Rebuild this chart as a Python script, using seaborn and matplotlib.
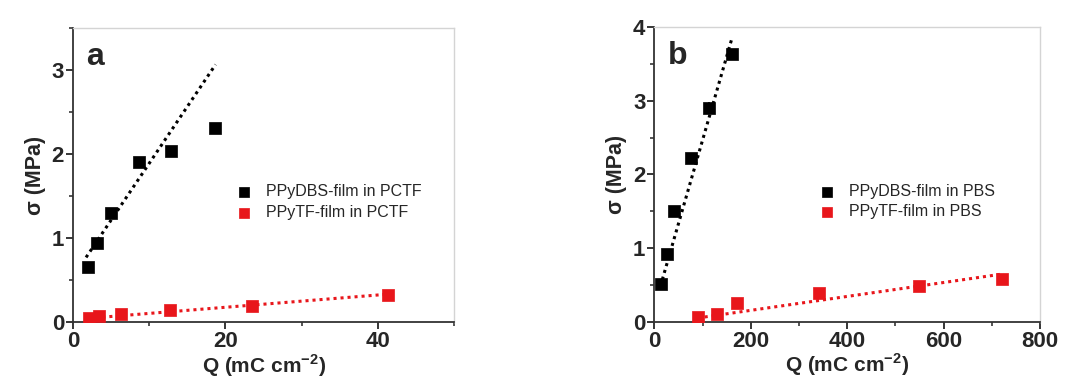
"""Stress vs charge density for PPyDBS and PPyTF films in PCTF and PBS."""

import matplotlib.pyplot as plt
import matplotlib.ticker as mticker
import numpy as np
import pandas as pd
import seaborn as sns

sns.set_theme(style="ticks")
plt.rcParams["font.family"] = ["Liberation Sans", "DejaVu Sans"]
plt.rcParams["mathtext.fontset"] = "custom"
plt.rcParams["mathtext.rm"] = "Liberation Sans"
plt.rcParams["mathtext.bf"] = "Liberation Sans:bold"

# Panel a: PCTF
q_dbs_pctf = [1.9, 3.2, 5.0, 8.6, 12.8, 18.6]
s_dbs_pctf = [0.66, 0.94, 1.30, 1.90, 2.04, 2.31]
e_dbs_pctf = [0.05, 0.05, 0.05, 0.05, 0.06, 0.05]
q_tf_pctf = [2.1, 3.4, 6.3, 12.7, 23.5, 41.3]
s_tf_pctf = [0.05, 0.07, 0.10, 0.14, 0.19, 0.32]
e_tf_pctf = [0.03, 0.03, 0.04, 0.04, 0.04, 0.04]

# Panel b: PBS
q_dbs_pbs = [13, 26, 41, 76, 113, 162]
s_dbs_pbs = [0.51, 0.92, 1.51, 2.23, 2.90, 3.63]
e_dbs_pbs = [0.06, 0.06, 0.06, 0.06, 0.08, 0.05]
q_tf_pbs = [91, 130, 172, 341, 550, 721]
s_tf_pbs = [0.07, 0.11, 0.25, 0.39, 0.49, 0.58]
e_tf_pbs = [0.04, 0.05, 0.05, 0.05, 0.05, 0.05]

# linear fits drawn in the source figure: (x start, x end, slope, intercept)
fit_dbs_pctf = (1.7, 18.7, 0.135, 0.54)
fit_tf_pctf = (2.0, 41.5, 0.0073, 0.03)
fit_dbs_pbs = (12.5, 161, 0.0227, 0.196)
fit_tf_pbs = (90, 725, 0.000945, -0.035)

BLACK = "#000000"
RED = "#e8161b"


def fit_frame(fit):
    x0, x1, k, b = fit
    xs = np.array([x0, x1])
    return pd.DataFrame({"x": xs, "y": k * xs + b})


def draw_panel(ax, series, fits, labels, xlim, ylim, xmajor, ymajor, tag):
    for (q, s, e), fit, color, label in zip(series, fits, [BLACK, RED], labels):
        ff = fit_frame(fit)
        sns.lineplot(data=ff, x="x", y="y", ax=ax, color=color, lw=2.2,
                     linestyle=(0, (1, 1.3)), legend=False)
        ax.errorbar(q, s, yerr=e, fmt="none", ecolor=color, elinewidth=1.2,
                    capsize=0, zorder=3)
        df = pd.DataFrame({"q": q, "s": s, "series": label})
        sns.scatterplot(data=df, x="q", y="s", ax=ax, marker="s", s=80,
                        color=color, edgecolor=color, linewidth=0.5,
                        label=label, zorder=4)

    ax.set_xlim(*xlim)
    ax.set_ylim(*ylim)
    ax.xaxis.set_major_locator(mticker.MultipleLocator(xmajor))
    ax.xaxis.set_minor_locator(mticker.MultipleLocator(xmajor / 2))
    ax.yaxis.set_major_locator(mticker.MultipleLocator(ymajor))
    ax.yaxis.set_minor_locator(mticker.MultipleLocator(ymajor / 2))
    ax.tick_params(which="major", direction="out", length=5, width=1.3,
                   labelsize=16, pad=1.5, top=False, right=False)
    ax.tick_params(which="minor", direction="out", length=3, width=1.1,
                   top=False, right=False)
    for lab in ax.get_xticklabels() + ax.get_yticklabels():
        lab.set_fontweight("bold")

    for side in ["left", "bottom"]:
        ax.spines[side].set_color("#333333")
        ax.spines[side].set_linewidth(1.3)
    for side in ["top", "right"]:
        ax.spines[side].set_color("#d4d4d4")
        ax.spines[side].set_linewidth(1.0)

    ax.set_xlabel("Q (mC cm$^{\\mathbf{-2}}$)", fontsize=15, fontweight="bold",
                  labelpad=0)
    ax.set_ylabel("σ (MPa)", fontsize=15.5, fontweight="bold", labelpad=4)
    ax.text(0.035, 0.875, tag, transform=ax.transAxes, fontsize=23,
            fontweight="bold", va="baseline")

    leg = ax.legend(loc="upper left", bbox_to_anchor=(0.41, 0.49), frameon=False,
                    fontsize=11.5, handlelength=1.0, handletextpad=0.9,
                    labelspacing=0.35, borderaxespad=0)
    for h in leg.legend_handles:
        h.set_sizes([60])


fig = plt.figure(figsize=(10.75, 3.78), dpi=100)
ax_a = fig.add_axes([0.068, 0.148, 0.3543, 0.778])
ax_b = fig.add_axes([0.6087, 0.149, 0.3587, 0.779])

draw_panel(
    ax_a,
    [(q_dbs_pctf, s_dbs_pctf, e_dbs_pctf), (q_tf_pctf, s_tf_pctf, e_tf_pctf)],
    [fit_dbs_pctf, fit_tf_pctf],
    ["PPyDBS-film in PCTF", "PPyTF-film in PCTF"],
    (0, 50), (0, 3.5), 20, 1, "a",
)
draw_panel(
    ax_b,
    [(q_dbs_pbs, s_dbs_pbs, e_dbs_pbs), (q_tf_pbs, s_tf_pbs, e_tf_pbs)],
    [fit_dbs_pbs, fit_tf_pbs],
    ["PPyDBS-film in PBS", "PPyTF-film in PBS"],
    (0, 800), (0, 4), 200, 1, "b",
)

fig.savefig("out.png", dpi=100)
